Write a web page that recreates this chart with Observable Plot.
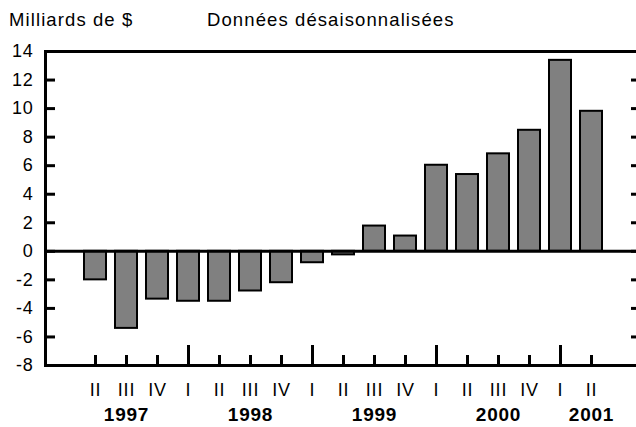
<!DOCTYPE html>
<html>
<head>
<meta charset="utf-8">
<script src="https://cdn.jsdelivr.net/npm/d3@7"></script>
<script src="https://cdn.jsdelivr.net/npm/@observablehq/plot@0.6"></script>
<style>
  body { margin: 0; background: #fff; }
  #wrap { width: 636px; height: 427px; position: relative; overflow: hidden; font-family: "Liberation Sans", Arial, sans-serif; }
  #head { position: relative; height: 38px; font-size: 18.5px; line-height: 1; letter-spacing: 1.1px; color: #000; }
  #head span { position: absolute; top: 11px; }
  svg { display: block; }
</style>
</head>
<body>
<div id="wrap">
  <div id="head"><span style="left:9px">Milliards de $</span><span style="left:207px">Données désaisonnalisées</span></div>
  <div id="chart"></div>
</div>
<script>
// Periods (year + quarter)
const periods = ["1997 II","1997 III","1997 IV","1998 I","1998 II","1998 III","1998 IV","1999 I","1999 II","1999 III","1999 IV","2000 I","2000 II","2000 III","2000 IV","2001 I","2001 II"];
// Values, billions of $
const values = [-2.0, -5.4, -3.35, -3.5, -3.5, -2.78, -2.2, -0.8, -0.25, 1.77, 1.07, 6.03, 5.38, 6.83, 8.48, 13.38, 9.81];
// Tick labels
const quarterLabels = ["II","III","IV","I","II","III","IV","I","II","III","IV","I","II","III","IV","I","II"];
const yearLabels = ["1997","1998","1999","2000","2001"];
const yearLabelAt = ["1997 III","1998 III","1999 III","2000 III","2001 II"];
const yTicks = [-8,-6,-4,-2,0,2,4,6,8,10,12,14];

const data = periods.map((p, i) => ({period: p, value: values[i]}));
const q1 = periods.filter(p => p.endsWith(" I"));
const notQ1 = periods.filter(p => !p.endsWith(" I"));
const qLab = new Map(periods.map((p, i) => [p, quarterLabels[i]]));
const yLab = new Map(yearLabelAt.map((p, i) => [p, yearLabels[i]]));

const chart = Plot.plot({
  width: 636,
  height: 389,
  marginTop: 13,
  marginBottom: 62,
  marginLeft: 45,
  marginRight: 0,
  style: {fontFamily: "Liberation Sans, Arial, sans-serif", fontSize: "18px", color: "#000", background: "#fff", overflow: "visible", letterSpacing: "0.8px"},
  x: {type: "band", domain: periods, range: [76.5, 609], paddingInner: 0.3, paddingOuter: 0.15},
  y: {domain: [-8, 14]},
  marks: [
    Plot.barY(data, {x: "period", y: "value", fill: "#808080", stroke: "#000", strokeWidth: 2}),
    Plot.ruleY([0], {stroke: "#000", strokeWidth: 3}),
    Plot.ruleY([14], {stroke: "#000", strokeWidth: 3}),
    Plot.ruleY([-8], {stroke: "#000", strokeWidth: 3}),
    Plot.frame({anchor: "left", stroke: "#000", strokeWidth: 3}),
    Plot.axisY(yTicks, {anchor: "left", tickSize: 0, tickPadding: 12, fontSize: 18, tickFormat: d => String(d), label: null}),
    Plot.axisY(yTicks, {anchor: "left", tickSize: -10, tickFormat: () => "", strokeWidth: 3, label: null}),
    Plot.axisY(yTicks, {anchor: "right", tickSize: -6, tickFormat: () => "", strokeWidth: 3, label: null}),
    Plot.axisX(notQ1, {anchor: "bottom", tickSize: -10, tickFormat: () => "", strokeWidth: 3, label: null}),
    Plot.axisX(q1, {anchor: "bottom", tickSize: -20, tickFormat: () => "", strokeWidth: 3, label: null}),
    Plot.axisX(periods, {anchor: "bottom", tickSize: 0, tickPadding: 18, tickFormat: d => qLab.get(d), fontSize: 18, label: null}),
    Plot.axisX(yearLabelAt, {anchor: "bottom", tickSize: 0, tickPadding: 42, tickFormat: d => yLab.get(d), fontSize: 19, fontWeight: "bold", label: null})
  ]
});
document.getElementById("chart").appendChild(chart);
</script>
</body>
</html>
